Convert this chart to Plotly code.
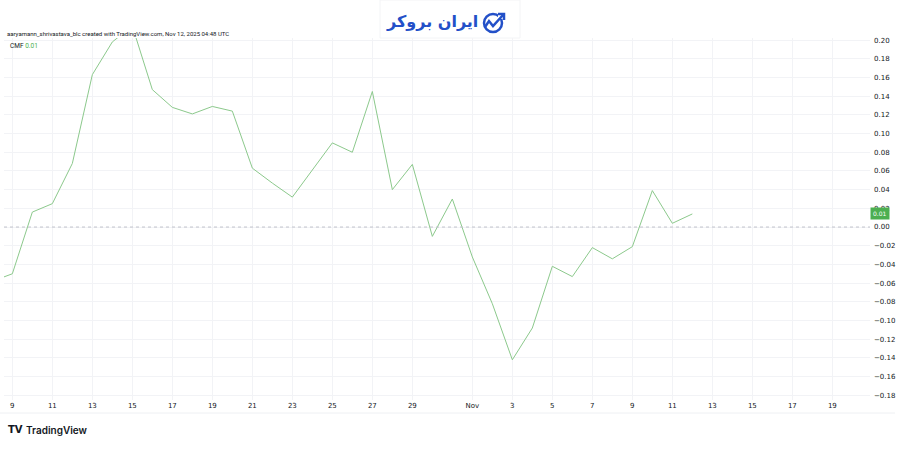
import plotly.graph_objects as go

# ---------------- data ----------------
dates = [
    "2025-10-08", "2025-10-09", "2025-10-10", "2025-10-11", "2025-10-12", "2025-10-13",
    "2025-10-14", "2025-10-15", "2025-10-16", "2025-10-17", "2025-10-18", "2025-10-19",
    "2025-10-20", "2025-10-21", "2025-10-22", "2025-10-23", "2025-10-24", "2025-10-25",
    "2025-10-26", "2025-10-27", "2025-10-28", "2025-10-29", "2025-10-30", "2025-10-31",
    "2025-11-01", "2025-11-02", "2025-11-03", "2025-11-04", "2025-11-05", "2025-11-06",
    "2025-11-07", "2025-11-08", "2025-11-09", "2025-11-10", "2025-11-11", "2025-11-12",
]
cmf = [
    -0.058, -0.050, 0.016, 0.025, 0.068, 0.163,
    0.198, 0.215, 0.147, 0.128, 0.121, 0.129,
    0.124, 0.063, 0.047, 0.032, 0.061, 0.090,
    0.080, 0.145, 0.040, 0.067, -0.010, 0.030,
    -0.032, -0.082, -0.142, -0.108, -0.042, -0.053,
    -0.022, -0.034, -0.021, 0.039, 0.004, 0.014,
]
x_tick_vals = [
    "2025-10-09", "2025-10-11", "2025-10-13", "2025-10-15", "2025-10-17", "2025-10-19",
    "2025-10-21", "2025-10-23", "2025-10-25", "2025-10-27", "2025-10-29", "2025-11-01",
    "2025-11-03", "2025-11-05", "2025-11-07", "2025-11-09", "2025-11-11", "2025-11-13",
    "2025-11-15", "2025-11-17", "2025-11-19", "2025-11-21",
]
x_tick_text = ["9", "11", "13", "15", "17", "19", "21", "23", "25", "27", "29", "Nov",
               "3", "5", "7", "9", "11", "13", "15", "17", "19", "21"]
y_tick_vals = [-0.18, -0.16, -0.14, -0.12, -0.10, -0.08, -0.06, -0.04, -0.02, 0.00,
               0.02, 0.04, 0.06, 0.08, 0.10, 0.12, 0.14, 0.16, 0.18, 0.20]
x_range = ["2025-10-08 14:00", "2025-11-20 21:12"]
y_range = [-0.185, 0.2022]

header = "aaryamann_shrivastava_blc created with TradingView.com, Nov 12, 2025 04:48 UTC"
indicator_name = "CMF"
brand_text = "ایران بروکر"

# ---------------- layout geometry (pixels) ----------------
W, H = 900, 471
L, R, T, B = 4, 870, 38, 400


def px(x, y):
    return (x - L) / (R - L), (B - y) / (B - T)


GREEN = "#4caf50"
LINE = "#8cc98c"
TXT = "#131722"
GRID = "#f2f3f6"
BLUE = "#2350c8"

fig = go.Figure()
fig.add_trace(go.Scatter(
    x=dates, y=cmf, mode="lines",
    line=dict(color=LINE, width=1),
    hoverinfo="skip", showlegend=False,
))

fig.add_hline(y=0, line=dict(color="#c2c4cb", width=1, dash="3px,3px"))

shapes = []
# faint outer frame lines (chart right border and bottom of time scale)
x0, y0 = px(0, 413)
x1, y1 = px(895, 38)
shapes.append(dict(type="line", xref="paper", yref="paper", x0=x1, x1=x1, y0=y0, y1=y1,
                   line=dict(color="#eef0f3", width=1)))
shapes.append(dict(type="line", xref="paper", yref="paper", x0=x0, x1=x1, y0=y0, y1=y0,
                   line=dict(color="#eef0f3", width=1)))

# brand box at top centre
bx0, by0 = px(380, 38)
bx1, by1 = px(520, 0)
shapes.append(dict(type="rect", xref="paper", yref="paper", x0=bx0, x1=bx1, y0=by0, y1=by1,
                   fillcolor="white", line=dict(color="#f3f4f6", width=1), layer="above"))
# brand icon: open circle with rising arrow
cx, cy, r = 493, 23, 9
ix0, iy0 = px(cx - r, cy + r)
ix1, iy1 = px(cx + r, cy - r)
shapes.append(dict(type="circle", xref="paper", yref="paper", x0=ix0, x1=ix1, y0=iy0, y1=iy1,
                   line=dict(color=BLUE, width=2.5), layer="above"))
gx0, gy0 = px(498, 19)
gx1, gy1 = px(506, 11)
shapes.append(dict(type="rect", xref="paper", yref="paper", x0=gx0, x1=gx1, y0=gy0, y1=gy1,
                   fillcolor="white", line=dict(width=0), layer="above"))
path = ""
for i, (a, b) in enumerate([(485, 27), (489, 21), (493, 26), (503, 15)]):
    pa, pb = px(a, b)
    path += ("M" if i == 0 else "L") + f"{pa},{pb} "
shapes.append(dict(type="path", xref="paper", yref="paper", path=path,
                   line=dict(color=BLUE, width=2.5), layer="above"))
hp = ""
for i, (a, b) in enumerate([(498, 14), (504, 14), (504, 20)]):
    pa, pb = px(a, b)
    hp += ("M" if i == 0 else "L") + f"{pa},{pb} "
shapes.append(dict(type="path", xref="paper", yref="paper", path=hp,
                   line=dict(color=BLUE, width=2.5), layer="above"))

annotations = []
hx, hy = px(5, 33)
annotations.append(dict(xref="paper", yref="paper", x=hx, y=hy, xanchor="left", yanchor="middle",
                        text=header, showarrow=False,
                        font=dict(size=6, color=TXT, family="Roboto, DejaVu Sans")))
cx_, cy_ = px(8, 46)
annotations.append(dict(xref="paper", yref="paper", x=cx_, y=cy_, xanchor="left", yanchor="middle",
                        text=f"{indicator_name} <span style='color:{GREEN}'>{cmf[-1]:.2f}</span>",
                        showarrow=False,
                        font=dict(size=6.5, color=TXT, family="Roboto, DejaVu Sans")))
# last value label on the price scale
annotations.append(dict(xref="paper", yref="y", x=1, y=cmf[-1], xanchor="left", yanchor="middle",
                        xshift=0, text=f"{cmf[-1]:.2f}", showarrow=False, bgcolor=GREEN,
                        borderpad=2, font=dict(size=6, color="white", family="DejaVu Sans")))
# TradingView footer logo
tx, ty = px(6, 430)
annotations.append(dict(xref="paper", yref="paper", x=tx, y=ty, xanchor="left", yanchor="middle",
                        text="<b>TV</b>", showarrow=False,
                        font=dict(size=10, color="#131722", family="DejaVu Sans")))
tx2, ty2 = px(24, 430)
annotations.append(dict(xref="paper", yref="paper", x=tx2, y=ty2, xanchor="left", yanchor="middle",
                        text="TradingView", showarrow=False,
                        font=dict(size=10, color="#131722", family="Inter, Roboto, sans-serif",
                                  weight=600)))
# brand text
btx, bty = px(480, 22)
annotations.append(dict(xref="paper", yref="paper", x=btx, y=bty, xanchor="right", yanchor="middle",
                        text=f"<b>{brand_text}</b>", showarrow=False,
                        font=dict(size=16, color=BLUE, family="DejaVu Sans")))

fig.update_layout(
    width=W, height=H,
    margin=dict(l=L, r=W - R, t=T, b=H - B, pad=0, autoexpand=False),
    paper_bgcolor="white", plot_bgcolor="white",
    shapes=shapes, annotations=annotations,
    xaxis=dict(
        type="date", range=x_range, tickmode="array", tickvals=x_tick_vals, ticktext=x_tick_text,
        showgrid=True, gridcolor=GRID, gridwidth=1, zeroline=False, showline=False,
        ticks="", tickfont=dict(size=7, color=TXT, family="DejaVu Sans"), automargin=False,
    ),
    yaxis=dict(
        side="right", range=y_range, tickmode="array", tickvals=y_tick_vals, tickformat=".2f",
        showgrid=True, gridcolor=GRID, gridwidth=1, zeroline=False, showline=False,
        ticks="", ticklabelstandoff=3, tickfont=dict(size=7, color=TXT, family="DejaVu Sans"),
        automargin=False,
    ),
    showlegend=False,
)

fig.write_html("out.html", config={"displayModeBar": False, "staticPlot": True},
               post_script="document.body.style.margin='0px';document.body.style.padding='0px';")
